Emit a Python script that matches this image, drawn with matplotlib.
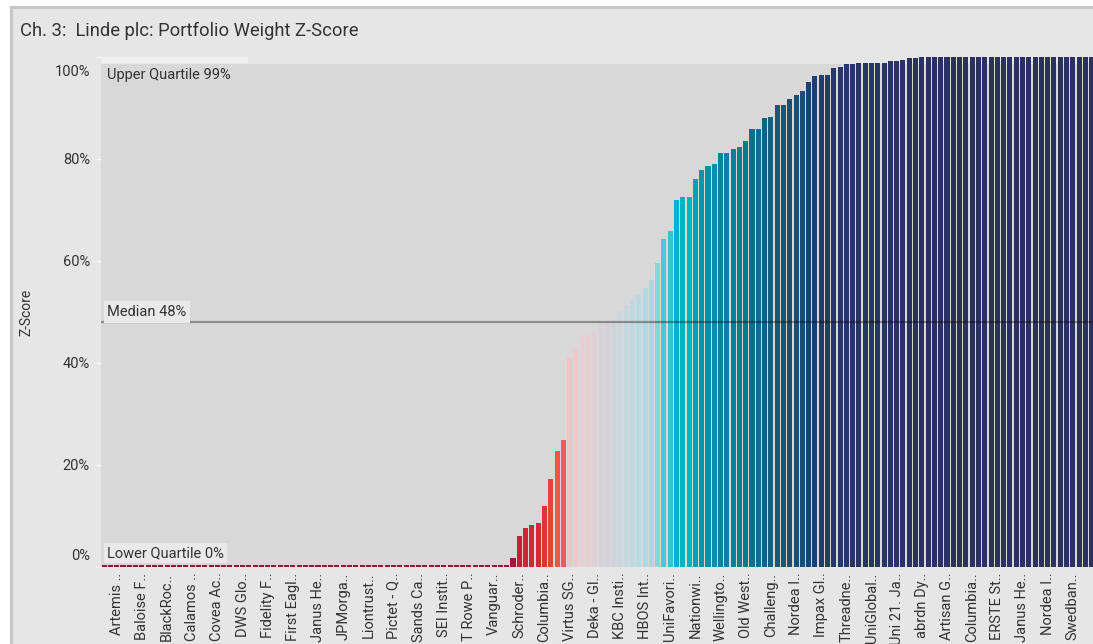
import numpy as np
import matplotlib
matplotlib.use("Agg")
import matplotlib.pyplot as plt
from matplotlib.patches import Rectangle
from matplotlib.colors import LinearSegmentedColormap
import matplotlib.transforms as mtransforms

plt.rcParams['font.family'] = ['Roboto', 'DejaVu Sans']

# ---------------- data ----------------
title = "Ch. 3:  Linde plc: Portfolio Weight Z-Score"
zero_count = 65
rising_values = [1.8, 6.1, 7.6, 8.2, 8.6, 12.0, 17.3, 22.7, 24.9, 41.2,
                 42.7, 45.5, 45.7, 46.3, 48.0, 48.3, 48.5, 50.2, 51.4, 52.4,
                 53.3, 54.7, 56.3, 59.6, 64.3, 65.9, 72.0, 72.5, 72.5, 76.1,
                 77.8, 78.6, 79.0, 81.2, 81.2, 82.0, 82.4, 83.5, 85.9, 85.9,
                 88.0, 88.2, 90.6, 90.6, 91.8, 92.5, 93.3, 95.1, 96.3, 96.5,
                 96.5, 97.8, 98.0, 98.6, 98.6, 98.8, 98.8, 98.8, 98.8, 98.8,
                 99.2, 99.2, 99.4, 99.8, 99.8]
top_count = 28
values = np.array([0.0] * zero_count + rising_values + [100.0] * top_count)

tick_labels = ["Artemis ..", "Baloise F..", "BlackRoc..", "Calamos ..", "Covea Ac..",
               "DWS Glo..", "Fidelity F..", "First Eagl..", "Janus He..", "JPMorga..",
               "Liontrust..", "Pictet - Q..", "Sands Ca..", "SEI Instit..", "T Rowe P..",
               "Vanguar..", "Schroder..", "Columbia..", "Virtus SG..", "Deka - Gl..",
               "KBC Insti..", "HBOS Int..", "UniFavori..", "Nationwi..", "Wellingto..",
               "Old West..", "Challeng..", "Nordea I..", "Impax Gl..", "Threadne..",
               "UniGlobal..", "Uni 21. Ja..", "abrdn Dy..", "Artisan G..", "Columbia..",
               "ERSTE St..", "Janus He..", "Nordea I..", "Swedban.."]
label_start, label_step = 2, 4

median = 48
upper_q = 99
lower_q = 0
y_ticks = [0, 20, 40, 60, 80, 100]

# ---------------- colours ----------------
stops = [(0, '#941638'), (5, '#c41c38'), (12, '#e03438'), (20, '#ee4a3c'),
         (25, '#f25e4c'), (35, '#f4aaa6'), (41, '#f4c4c4'), (46, '#e2d0d4'),
         (48, '#d4d2da'), (52, '#c4d8e0'), (56, '#a8dae4'), (60, '#84d4e2'),
         (65, '#40c6d6'), (72, '#04b4c8'), (78, '#0896ae'), (82, '#0b7f98'),
         (87, '#0e6a86'), (91, '#165676'), (95, '#1e4470'), (98, '#263866'),
         (100, '#2b3260')]
cmap = LinearSegmentedColormap.from_list('z', [(v / 100, c) for v, c in stops])

# ---------------- figure ----------------
W, H = 1093, 644
fig = plt.figure(figsize=(W / 100, H / 100), dpi=100)
fig.patch.set_facecolor('white')

def fx(px):
    return px / W

def fy(py):
    return 1 - py / H

# outer frame
fig.patches.append(Rectangle((fx(11), fy(700)), 1.2, (700 - 7) / H,
                             transform=fig.transFigure, facecolor='#e6e6e6',
                             edgecolor='#c6c6c6', linewidth=2.2, zorder=-5))
fig.text(fx(20), fy(31), title, fontsize=13.2, color='#333333', va='center', ha='left')

y0, y100 = 567, 57
ax = fig.add_axes([fx(101), fy(y0), (W - 101) / W, (y0 - y100) / H])
ax.set_zorder(2)
bar_px = 6.29
n = len(values)
ax.set_xlim(-0.5, -0.5 + (W - 101) / bar_px)
ax.set_ylim(0, 100)
ax.set_facecolor('none')
for s in ax.spines.values():
    s.set_visible(False)

plot_top = 98.6
ax.add_patch(Rectangle((-0.5, 0), 200, plot_top, facecolor='#d8d8d8',
                       edgecolor='none', zorder=0))
ax.add_patch(Rectangle((-0.5, plot_top + 0.2), (248 - 101) / bar_px, 100 - plot_top - 0.2,
                       facecolor='#efefef', edgecolor='none', zorder=0, clip_on=False))

x = np.arange(n)
heights = np.maximum(values, 0.35)
ax.bar(x, heights, width=0.8, color=cmap(values / 100), zorder=2, clip_on=False,
       linewidth=0)

# median line
ax.axhline(median, color='black', alpha=0.35, lw=1.6, zorder=3)

# annotation labels
ax.text(0.5, median + 0.6, f"Median {median}%", fontsize=10.5, color='#333333',
        ha='left', va='bottom', zorder=4,
        bbox=dict(boxstyle='square,pad=0.25', fc='#e9e9e9', ec='none'))
ax.text(0.5, lower_q + 1.3, f"Lower Quartile {lower_q}%", fontsize=10.5, color='#333333',
        ha='left', va='bottom', zorder=1.5,
        bbox=dict(boxstyle='square,pad=0.2', fc='#e9e9e9', ec='none'))
ax.text(0.5, 97.9, f"Upper Quartile {upper_q}%", fontsize=10.5, color='#333333',
        ha='left', va='top', zorder=4)

# y axis
ax.set_yticks(y_ticks)
ax.set_yticklabels([f"{t}%" for t in y_ticks])
ax.tick_params(axis='y', length=4, width=1, color='#f6f6f6', labelsize=10.5,
               labelcolor='#333333', pad=4)
for lbl, t in zip(ax.get_yticklabels(), y_ticks):
    if t == 0:
        lbl.set_transform(lbl.get_transform() +
                          mtransforms.ScaledTranslation(0, 12 / 100, fig.dpi_scale_trans))
    if t == 100:
        lbl.set_transform(lbl.get_transform() +
                          mtransforms.ScaledTranslation(0, -13 / 100, fig.dpi_scale_trans))
ax.set_ylabel("Z-Score", fontsize=10, color='#333333')
ax.yaxis.set_label_coords((33 - 101) / (W - 101), (y0 - 312) / (y0 - y100))

# x axis
tick_pos = [label_start + label_step * i for i in range(len(tick_labels))]
ax.set_xticks(tick_pos)
ax.set_xticklabels(tick_labels, rotation=90, fontsize=10.5, color='#333333')
ax.tick_params(axis='x', length=0, pad=4)

fig.savefig('out.png', dpi=100, facecolor=fig.get_facecolor())
